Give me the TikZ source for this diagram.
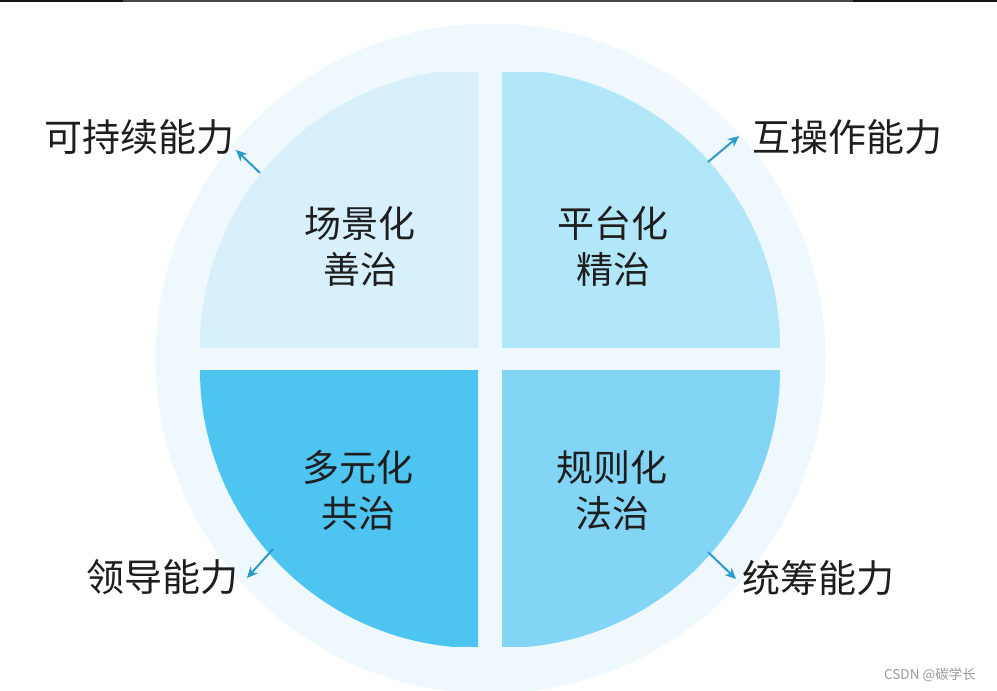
\documentclass[tikz,border=0pt]{standalone}
\usepackage{fontspec}
\newfontfamily\cjk{Noto Sans CJK SC}
\usetikzlibrary{arrows.meta}
\definecolor{ringc}{HTML}{EFF8FC}
\definecolor{qtl}{HTML}{D7F0FB}
\definecolor{qtr}{HTML}{B2E6F9}
\definecolor{qbl}{HTML}{4EC4F1}
\definecolor{qbr}{HTML}{83D5F6}
\definecolor{arrc}{HTML}{2A9BCB}
\definecolor{txtc}{HTML}{1E1E1E}
\definecolor{wmc}{HTML}{9A9A9A}
\tikzset{
  inlabel/.style={text=txtc, align=center, font=\cjk\fontsize{37}{46}\selectfont, inner sep=0pt},
  outlabel/.style={text=txtc, font=\cjk\fontsize{38}{40}\selectfont, inner sep=0pt},
  outarrow/.style={draw=arrc, line width=2pt, -{Stealth[length=11pt,width=10pt]}},
}
\begin{document}
\begin{tikzpicture}[x=1pt,y=-1pt]
\useasboundingbox (0,0) rectangle (997,691);
\fill[white] (0,0) rectangle (997,691);
% top edge bar
\fill[black!92] (0,0) rectangle (123,2.2);
\fill[black!72] (123,0) rectangle (853,2.2);
\fill[black!92] (853,0) rectangle (997,2.2);
% outer ring
\fill[ringc] (490.5,358.5) circle[radius=335pt];
% quadrants
\begin{scope}
  \clip (200,72) rectangle (478,347);
  \fill[qtl] (478,347) circle[radius=278pt];
\end{scope}
\begin{scope}
  \clip (502,72) rectangle (781,347);
  \fill[qtr] (502,347) circle[radius=278pt];
\end{scope}
\begin{scope}
  \clip (200,370) rectangle (478,646);
  \fill[qbl] (478,370) circle[radius=278pt];
\end{scope}
\begin{scope}
  \clip (502,370) rectangle (781,646);
  \fill[qbr] (502,370) circle[radius=278pt];
\end{scope}
% inner labels
\node[inlabel] (q1) at (360,246) {场景化\\善治};
\node[inlabel] (q2) at (613,246) {平台化\\精治};
\node[inlabel] (q3) at (358,490) {多元化\\共治};
\node[inlabel] (q4) at (612,490) {规则化\\法治};
% outer labels
\node[outlabel] (l1) at (140,137) {可持续能力};
\node[outlabel] (l2) at (847,137) {互操作能力};
\node[outlabel] (l3) at (162,577) {领导能力};
\node[outlabel] (l4) at (818,578) {统筹能力};
% arrows
\coordinate (a1s) at (260,173);
\coordinate (a1e) at (236,150);
\coordinate (a2s) at (708,162);
\coordinate (a2e) at (739,136);
\coordinate (a3s) at (273,549);
\coordinate (a3e) at (247,578);
\coordinate (a4s) at (708,552);
\coordinate (a4e) at (736,579);
\draw[outarrow] (a1s) -- (a1e);
\draw[outarrow] (a2s) -- (a2e);
\draw[outarrow] (a3s) -- (a3e);
\draw[outarrow] (a4s) -- (a4e);
% watermark
\node[text=wmc, font=\cjk\fontsize{13.5}{15}\selectfont, inner sep=0pt] (wm) at (930,675) {CSDN @碳学长};
\end{tikzpicture}
\end{document}
